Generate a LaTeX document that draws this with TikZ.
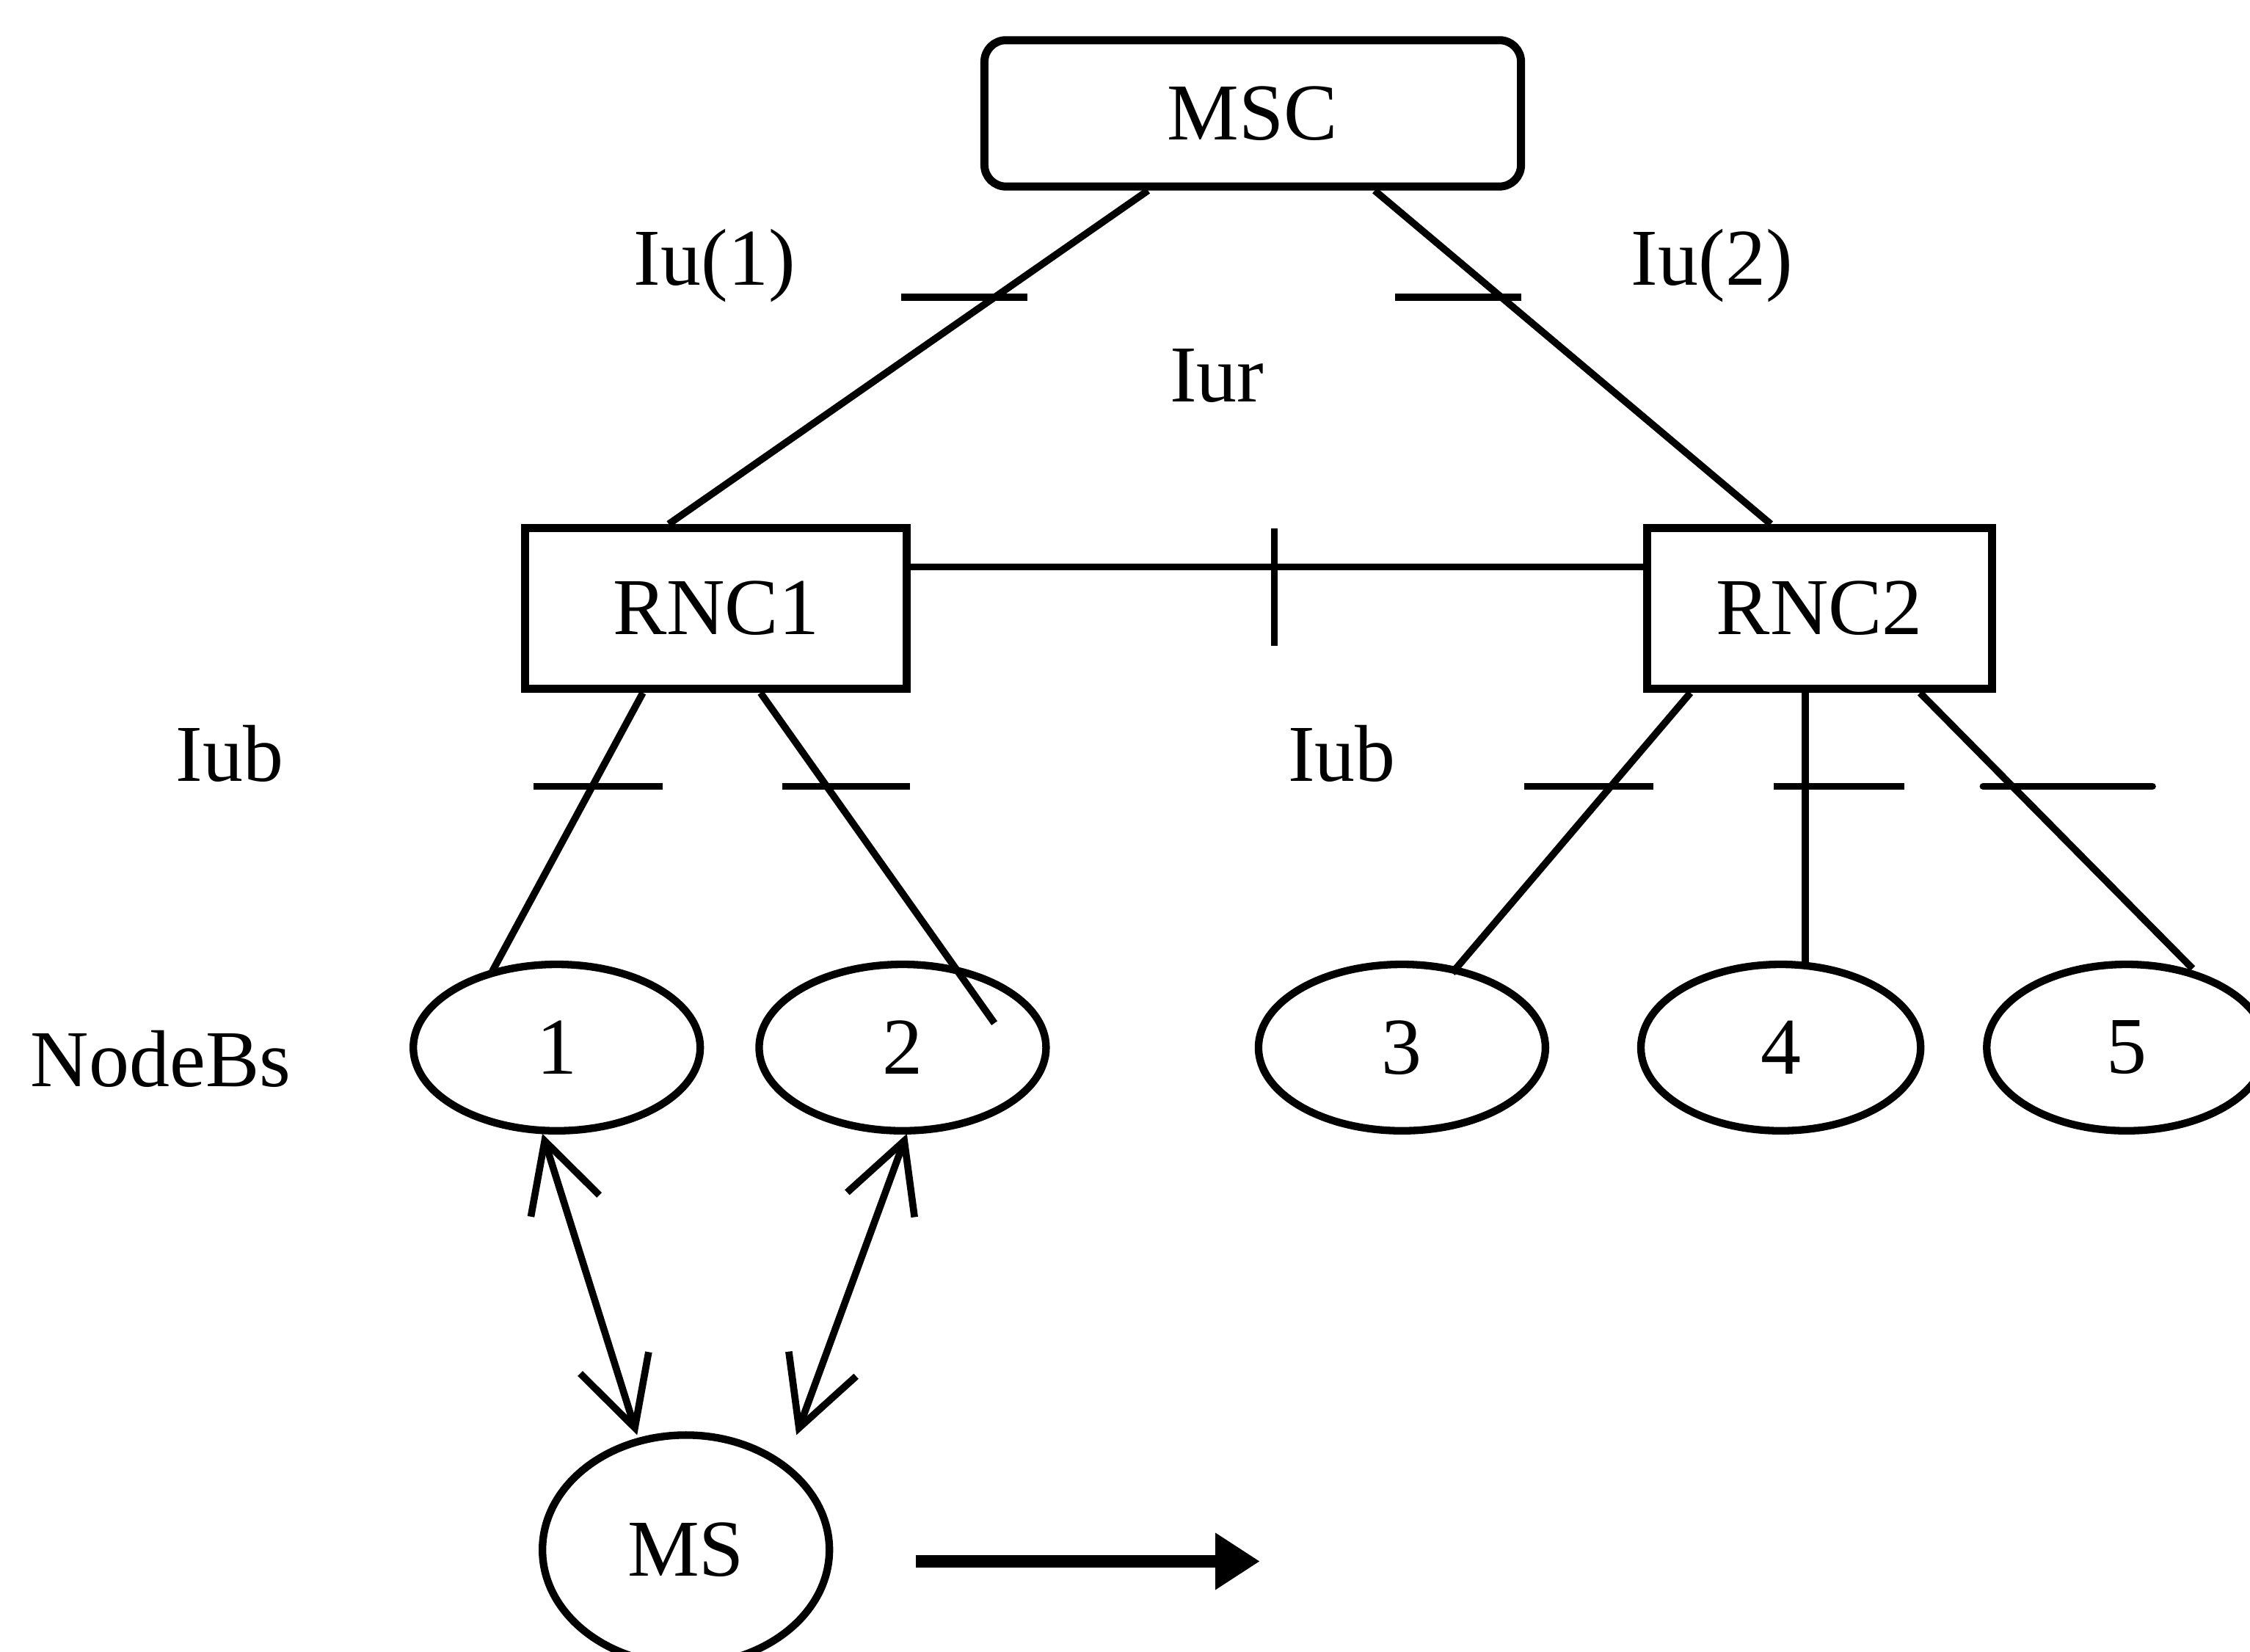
\documentclass[tikz,border=0pt]{standalone}
\usepackage{fontspec}
\setmainfont{Liberation Serif}
\usetikzlibrary{calc,arrows.meta,shapes.geometric}
\begin{document}
\begin{tikzpicture}[x=0.02cm,y=-0.02cm,
  every node/.style={font=\fontsize{32}{38}\selectfont},
  conn/.style={line width=2.8pt},
  tick/.style={line width=2.8pt},
  boxnode/.style={draw,line width=3.2pt,inner sep=0pt},
  nb/.style={draw,ellipse,line width=3pt,minimum width=4cm,minimum height=2.32cm,inner sep=0pt},
  radio/.style={line width=2.8pt,{Straight Barb[length=0.95cm,width=1.0cm,line width=2.8pt]}-{Straight Barb[length=0.95cm,width=1.0cm,line width=2.8pt]}},
  lbl/.style={inner sep=0pt}]
\useasboundingbox (0,0) rectangle (1568,1151);
% main nodes
\node[boxnode,rounded corners=0.3cm,minimum width=7.48cm,minimum height=2.04cm] (msc) at (873,79) {MSC};
\node[boxnode,minimum width=5.32cm,minimum height=2.24cm] (rnc1) at (499,424) {RNC1};
\node[boxnode,minimum width=4.8cm,minimum height=2.24cm] (rnc2) at (1268,424) {RNC2};
\node[nb] (n1) at (388,730) {1};
\node[nb] (n2) at (629,730) {2};
\node[nb] (n3) at (977,730) {3};
\node[nb,minimum width=3.9cm] (n4) at (1241,730) {4};
\node[nb,minimum width=3.9cm] (n5) at (1482,730) {5};
\node[draw,ellipse,line width=3pt,minimum width=4cm,minimum height=3.2cm,inner sep=0pt] (ms) at (478,1080) {MS};
% labels
\node[lbl] (iu1) at (498,185) {Iu(1)};
\node[lbl] (iu2) at (1193,185) {Iu(2)};
\node[lbl] (iur) at (848,262) {Iur};
\node[lbl] (iub1) at (160,525) {Iub};
\node[lbl] (iub2) at (935,525) {Iub};
\node[lbl] (nbs) at (112,738) {NodeBs};
% Iu links
\draw[conn] ($(msc.south)+(-73,0)$) -- ($(rnc1.north)+(-33,0)$);
\draw[conn] ($(msc.south)+(85,0)$) -- ($(rnc2.north)+(-34,0)$);
% Iur link
\draw[conn] ($(rnc1.east)+(0,-29)$) -- ($(rnc2.west)+(0,-29)$);
% Iub links
\draw[conn] ($(rnc1.south)+(-51,0)$) -- ($(n1.center)+(-45,-53)$);
\draw[conn] ($(rnc1.south)+(31,0)$) -- ($(n2.center)+(64,-17)$);
\draw[conn] ($(rnc2.south)+(-90,0)$) -- ($(n3.center)+(35,-52)$);
\draw[conn] ($(rnc2.south)+(-10,0)$) -- ($(n4.center)+(17,-58)$);
\draw[conn] ($(rnc2.south)+(70,0)$) -- ($(n5.center)+(46,-55)$);
% interface ticks
\draw[tick] (628,207) -- (716,207);
\draw[tick] (972,207) -- (1060,207);
\draw[tick] (888,368) -- (888,450);
\draw[tick] (372,548) -- (462,548);
\draw[tick] (545,548) -- (634,548);
\draw[tick] (1062,548) -- (1152,548);
\draw[tick] (1236,548) -- (1327,548);
\draw[tick,line cap=round] (1382,548) -- (1500,548);
% radio links
\coordinate (t1) at (444,1000);
\coordinate (t2) at (555,1000);
\draw[radio] ($(n1.center)+(-10,60)$) -- (t1);
\draw[radio] ($(n2.center)+(3,60)$) -- (t2);
% movement arrow
\coordinate (m0) at (638,1088);
\coordinate (m1) at (878,1088);
\draw[line width=5pt,-{Triangle[length=0.62cm,width=0.75cm]}] (m0) -- (m1);
\end{tikzpicture}
\end{document}
